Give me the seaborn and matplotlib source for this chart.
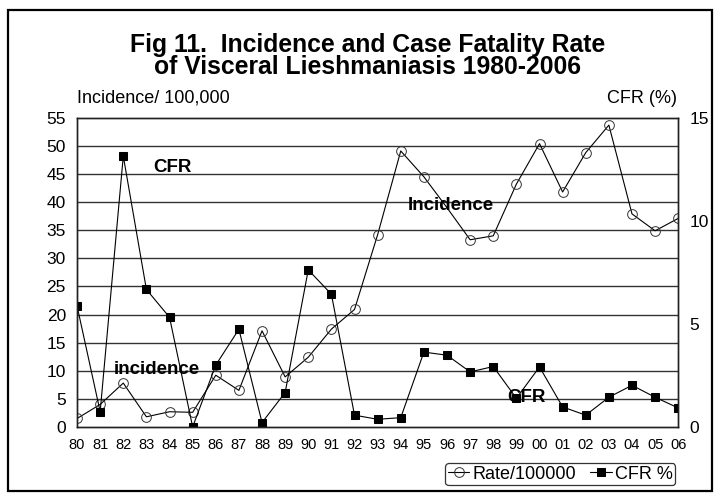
import numpy as np
import pandas as pd
import matplotlib
matplotlib.use("Agg")
import matplotlib.pyplot as plt
import seaborn as sns
from matplotlib.patches import Rectangle

# data
years = ["80", "81", "82", "83", "84", "85", "86", "87", "88", "89", "90", "91", "92",
         "93", "94", "95", "96", "97", "98", "99", "00", "01", "02", "03", "04", "05", "06"]
incidence = [1.5, 4.0, 7.8, 1.8, 2.7, 2.6, 9.2, 6.5, 17.1, 8.9, 12.4, 17.4, 20.9,
             34.2, 49.1, 44.5, 39.0, 33.3, 34.0, 43.2, 50.4, 41.8, 48.8, 53.7, 37.9, 34.9, 37.1]
cfr = [5.87, 0.74, 13.14, 6.67, 5.32, 0.0, 3.0, 4.74, 0.21, 1.67, 7.62, 6.44, 0.57,
       0.37, 0.45, 3.63, 3.48, 2.67, 2.93, 1.39, 2.91, 0.97, 0.57, 1.44, 2.02, 1.44, 0.92]

df = pd.DataFrame({"pos": np.arange(len(years)), "year": years,
                   "Rate/100000": incidence, "CFR %": cfr})

sns.set_style("white")
plt.rcParams['font.family'] = ['Liberation Sans', 'DejaVu Sans']
plt.rcParams.update({"text.color": "black", "xtick.color": "black",
                     "ytick.color": "black", "axes.labelcolor": "black"})

fig = plt.figure(figsize=(7.2, 4.97), dpi=100)
ax = fig.add_axes([0.107, 0.141, 0.835, 0.622])
ax2 = ax.twinx()

# horizontal grid on the incidence axis
for v in range(5, 55, 5):
    ax.axhline(v, color="#333333", lw=1.0, zorder=0)

# the 96 circle is covered by the "Incidence" label in the original
circle_marks = [i for i in range(len(years)) if years[i] != "96"]
sns.lineplot(data=df, x="pos", y="Rate/100000", ax=ax, color="black", lw=0.8,
             marker="o", markersize=7, markerfacecolor="none", markeredgecolor="#333333",
             markeredgewidth=0.7, markevery=circle_marks, label="Rate/100000", legend=False)
sns.lineplot(data=df, x="pos", y="CFR %", ax=ax2, color="black", lw=0.8,
             marker="s", markersize=6, markerfacecolor="black", markeredgecolor="black",
             label="CFR %", legend=False)

ax.set_xlim(0, len(years) - 1)
ax.set_ylim(0, 55)
ax2.set_ylim(0, 15)
ax.set_xticks(df["pos"])
ax.set_xticklabels(years, fontsize=10.5)
ax.set_yticks(range(0, 60, 5))
ax.set_yticklabels([str(v) for v in range(0, 60, 5)], fontsize=12.5)
ax2.set_yticks([0, 5, 10, 15])
ax2.set_yticklabels(["0", "5", "10", "15"], fontsize=12.5)
ax.set_xlabel("")
ax.set_ylabel("")
ax2.set_ylabel("")
ax.tick_params(axis="y", length=0, pad=8, labelcolor="black")
ax.tick_params(axis="x", length=0, pad=8, labelcolor="black")
ax2.tick_params(axis="y", length=0, pad=8, labelcolor="black")
for a in (ax, ax2):
    for s in a.spines.values():
        s.set_color("#222222")
        s.set_linewidth(1.0)

# axis captions and title
fig.text(0.107, 0.785, "Incidence/ 100,000", fontsize=13, ha="left", va="bottom")
fig.text(0.94, 0.785, "CFR (%)", fontsize=13, ha="right", va="bottom")
fig.text(0.51, 0.887, "Fig 11.  Incidence and Case Fatality Rate\nof Visceral Lieshmaniasis 1980-2006",
         fontsize=17.8, fontweight="bold", ha="center", va="center", linespacing=0.88)

# in-plot labels
ax.text(3.3, 46.2, "CFR", fontsize=13.5, fontweight="bold", ha="left", va="center")
ax.text(14.3, 39.4, "Incidence", fontsize=13.5, fontweight="bold", ha="left", va="center")
ax.text(1.6, 10.3, "incidence", fontsize=13.5, fontweight="bold", ha="left", va="center")
ax.text(18.6, 5.2, "CFR", fontsize=13.5, fontweight="bold", ha="left", va="center")

# legend
h1, l1 = ax.get_legend_handles_labels()
h2, l2 = ax2.get_legend_handles_labels()
leg = fig.legend(h1 + h2, l1 + l2, loc="center", bbox_to_anchor=(0.778, 0.046), ncol=2,
                 fontsize=13, frameon=True, fancybox=True, edgecolor="black",
                 handlelength=1.2, handletextpad=0.15, columnspacing=0.8,
                 borderpad=0.15, borderaxespad=0)
leg.get_frame().set_linewidth(0.9)

# outer frame
fig.patches.append(Rectangle((0.011, 0.012), 0.978, 0.968, transform=fig.transFigure,
                             fill=False, edgecolor="black", lw=1.6))

fig.savefig("out.png", dpi=100)
